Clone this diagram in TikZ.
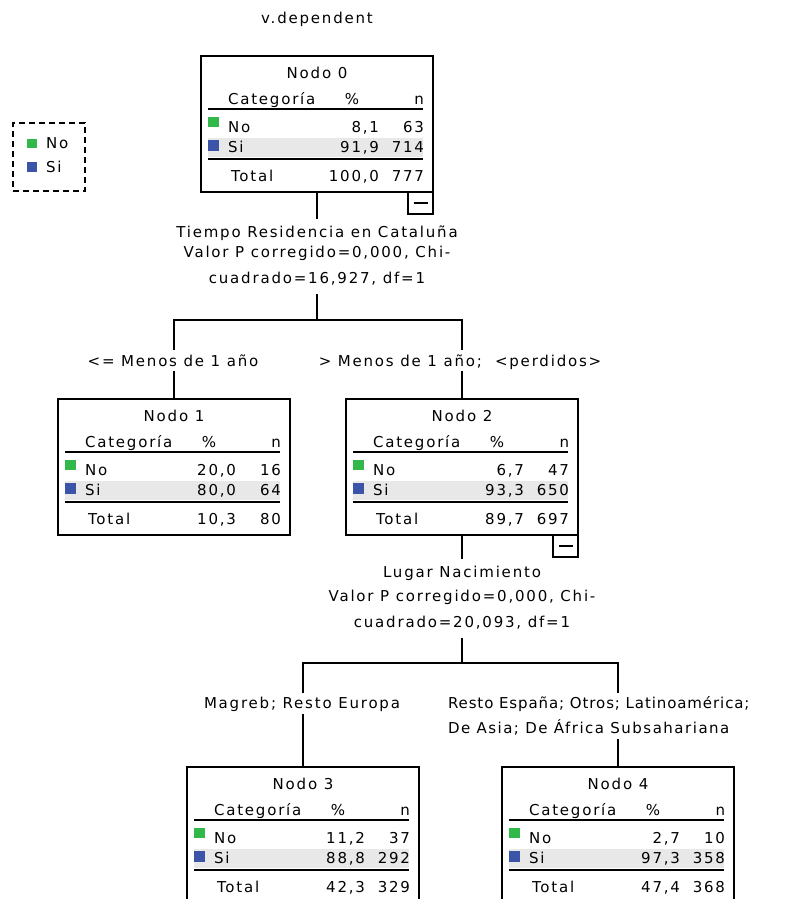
\documentclass[tikz,border=0pt]{standalone}
\usepackage{fontspec}
\newfontfamily\spss{DejaVu Sans}[LetterSpace=12]
\definecolor{nocol}{RGB}{48,184,72}
\definecolor{sicol}{RGB}{60,84,168}
\definecolor{bandcol}{RGB}{232,232,232}
\tikzset{
  x=1pt, y=-1pt,
  every node/.style={font=\spss\fontsize{15}{20}\selectfont, inner sep=0pt, outer sep=0pt, text=black},
  tbox/.style={draw=black, line width=1.3pt, minimum width=232pt, minimum height=136pt},
  minusb/.style={draw=black, line width=1.3pt, minimum width=25pt, minimum height=22pt, anchor=north east},
  rulethin/.style={line width=1.3pt},
  rulethick/.style={line width=2pt},
  conn/.style={line width=1.3pt, draw=black},
  lbl/.style={anchor=base, text height=11pt, text depth=3pt, inner ysep=7.5pt},
  blbl/.style={anchor=base, text height=11pt, text depth=0pt, inner ysep=5pt},
  legbox/.style={draw=black, line width=1.1pt, dash pattern=on 6pt off 4pt, minimum width=72pt, minimum height=68pt, anchor=north west}
}
\newcommand{\treenode}[9]{%
  \begin{scope}[shift={(#2,#3)}]
    \fill[bandcol] (7,82) rectangle (222,101);
    \node[tbox] (n#1) at (116,68) {};
    \node[anchor=base] (n#1t) at (116,22.5) {Nodo #1};
    \node[anchor=base west] (n#1ha) at (27,48.5) {Categoría};
    \node[anchor=base] (n#1hb) at (151,48.5) {\%};
    \node[anchor=base east] (n#1hc) at (223,48.5) {n};
    \draw[rulethin] (7,53) -- (222,53);
    \fill[nocol] (7,61) rectangle (18,71);
    \node[anchor=base west] (n#1ra) at (27,76.5) {No};
    \node[anchor=base east] (n#1pa) at (178,76.5) {#4};
    \node[anchor=base east] (n#1ca) at (223,76.5) {#5};
    \fill[sicol] (7,84) rectangle (18,95);
    \node[anchor=base west] (n#1rb) at (27,96.5) {Si};
    \node[anchor=base east] (n#1pb) at (178,96.5) {#6};
    \node[anchor=base east] (n#1cb) at (223,96.5) {#7};
    \draw[rulethick] (7,103) -- (222,103);
    \node[anchor=base west] (n#1rc) at (30,125.5) {Total};
    \node[anchor=base east] (n#1pc) at (178,125.5) {#8};
    \node[anchor=base east] (n#1cc) at (223,125.5) {#9};
  \end{scope}}
\newcommand{\minusbox}[1]{%
  \node[minusb] (#1m) at (#1.south east) {\rule{14pt}{1.3pt}};}
\begin{document}
\begin{tikzpicture}
\useasboundingbox (0,0) rectangle (785,899);
\clip (0,0) rectangle (785,899);

\node[anchor=base] (title) at (317,24) {v.dependent};

% legend
\node[legbox] (leg) at (13,123) {};
\fill[nocol] (27,139) rectangle (37,148);
\node[anchor=base west] (legno) at (46,148.5) {No};
\fill[sicol] (27,162) rectangle (37,172);
\node[anchor=base west] (legsi) at (46,172.5) {Si};

% tree nodes
\treenode{0}{201}{56}{8,1}{63}{91,9}{714}{100,0}{777}
\treenode{1}{58}{399}{20,0}{16}{80,0}{64}{10,3}{80}
\treenode{2}{346}{399}{6,7}{47}{93,3}{650}{89,7}{697}
\treenode{3}{187}{767}{11,2}{37}{88,8}{292}{42,3}{329}
\treenode{4}{502}{767}{2,7}{10}{97,3}{358}{47,4}{368}
\minusbox{n0}
\minusbox{n2}

% split of node 0
\node[lbl] (s0a) at (317,237.5) {Tiempo Residencia en Cataluña};
\node[lbl] (s0b) at (317,257.5) {Valor P corregido=0,000, Chi-};
\node[lbl] (s0c) at (317,283.5) {cuadrado=16,927, df=1};
\coordinate (j0) at (317,320);
\draw[conn] (n0.south) -- (s0a.north);
\draw[conn] (s0c.south) -- (j0);
\node[blbl] (b1) at (173,366) {<= Menos de 1 año};
\node[blbl] (b2) at (460,366) {> Menos de 1 año;\ \ <perdidos>};
\draw[conn] (j0) -| (b1.north -| n1.north);
\draw[conn] (b1.south -| n1.north) -- (n1.north);
\draw[conn] (j0) -| (b2.north -| n2.north);
\draw[conn] (b2.south -| n2.north) -- (n2.north);

% split of node 2
\node[lbl] (s2a) at (462,577.5) {Lugar Nacimiento};
\node[lbl] (s2b) at (462,601.5) {Valor P corregido=0,000, Chi-};
\node[lbl] (s2c) at (462,627) {cuadrado=20,093, df=1};
\coordinate (j2) at (462,663);
\draw[conn] (n2.south) -- (s2a.north);
\draw[conn] (s2c.south) -- (j2);
\node[blbl] (b3) at (302,708.5) {Magreb; Resto Europa};
\node[blbl, anchor=base west] (b4a) at (448,708.5) {\addfontfeatures{LetterSpace=6}Resto España; Otros; Latinoamérica;};
\node[blbl, anchor=base west] (b4b) at (448,733.5) {\addfontfeatures{LetterSpace=10}De Asia; De África Subsahariana};
\draw[conn] (j2) -| (b3.north -| n3.north);
\draw[conn] (b3.south -| n3.north) -- (n3.north);
\draw[conn] (j2) -| (b4a.north -| n4.north);
\draw[conn] (b4b.south -| n4.north) -- (n4.north);
\end{tikzpicture}
\end{document}
